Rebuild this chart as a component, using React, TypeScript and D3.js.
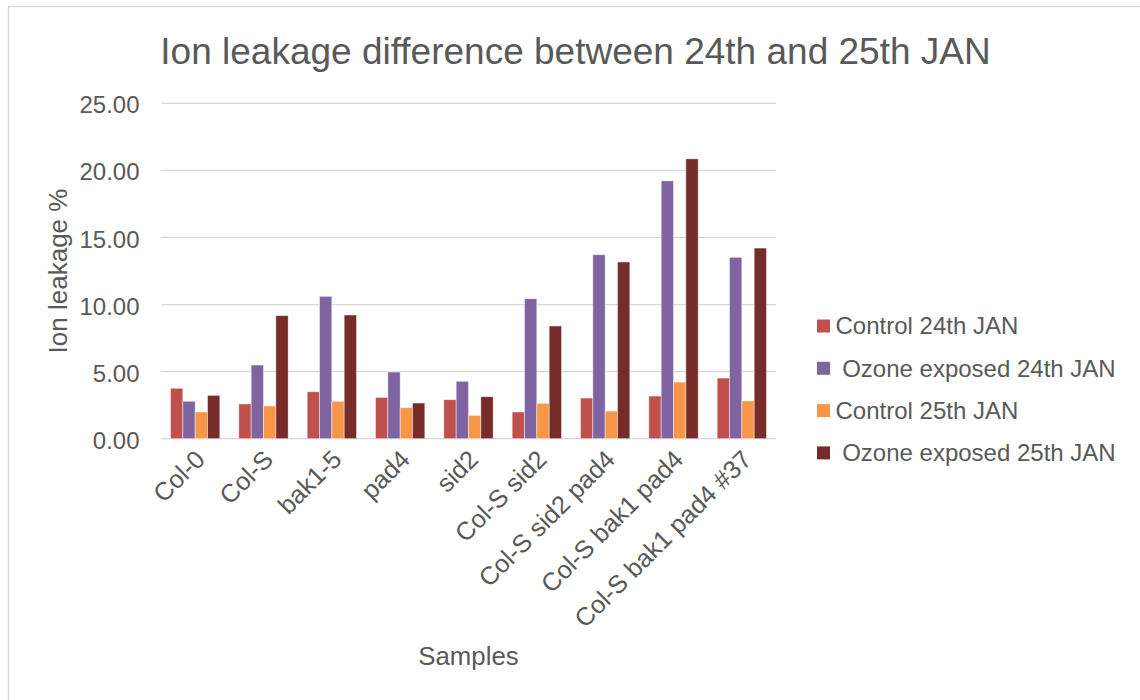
import React from "react";
import * as d3 from "d3";

const categories = [
  "Col-0",
  "Col-S",
  "bak1-5",
  "pad4",
  "sid2",
  "Col-S sid2",
  "Col-S sid2 pad4",
  "Col-S bak1 pad4",
  "Col-S bak1 pad4 #37",
];

const seriesNames = [
  "Control 24th JAN",
  " Ozone exposed 24th JAN",
  "Control 25th JAN",
  " Ozone exposed 25th JAN",
];

const control24 = [3.76, 2.59, 3.5, 3.08, 2.91, 1.99, 3.03, 3.18, 4.52];
const ozone24 = [2.79, 5.49, 10.61, 4.97, 4.28, 10.43, 13.71, 19.22, 13.52];
const control25 = [1.99, 2.44, 2.79, 2.31, 1.74, 2.64, 2.06, 4.22, 2.81];
const ozone25 = [3.23, 9.17, 9.22, 2.66, 3.13, 8.4, 13.17, 20.86, 14.21];

const seriesValues = [control24, ozone24, control25, ozone25];
const colors = ["#C0504D", "#8064A2", "#F79646", "#772C2A"];

const yTicks = [0, 5, 10, 15, 20, 25];

const W = 1140;
const H = 700;
const M = { left: 161, right: 776, top: 103.3, bottom: 438.7 };
const TEXT = "#595959";
const FONT = "'Liberation Sans', Arial, sans-serif";

export default function App() {
  const x0 = d3
    .scaleBand<string>()
    .domain(categories)
    .range([M.left, M.right])
    .paddingInner(0.278)
    .paddingOuter(0.139);
  const x1 = d3
    .scaleBand<number>()
    .domain(d3.range(seriesNames.length))
    .range([0, x0.bandwidth()])
    .padding(0);
  const y = d3.scaleLinear().domain([0, 25]).range([M.bottom, M.top]);

  return (
    <svg
      width={W}
      height={H}
      style={{ position: "absolute", left: 0, top: 0, background: "#fff" }}
      fontFamily={FONT}
    >
      <rect x={0} y={0} width={W} height={H} fill="#fff" />
      <rect
        x={8.5}
        y={6.5}
        width={W + 10}
        height={H + 10}
        fill="none"
        stroke="#d9d9d9"
        strokeWidth={1.3}
      />
      <text
        x={575.5}
        y={63.5}
        textAnchor="middle"
        fontSize={37}
        fill={TEXT}
      >
        Ion leakage difference between 24th and 25th JAN
      </text>

      {yTicks.map((t) => (
        <g key={t}>
          <line
            x1={M.left}
            x2={M.right}
            y1={y(t)}
            y2={y(t)}
            stroke="#d9d9d9"
            strokeWidth={1.3}
          />
          <text
            x={139.5}
            y={y(t) + 1.7}
            dy="0.35em"
            textAnchor="end"
            fontSize={24}
            fill={TEXT}
          >
            {t.toFixed(2)}
          </text>
        </g>
      ))}

      {categories.map((c, ci) => (
        <g key={c} transform={`translate(${x0(c)},0)`}>
          {seriesValues.map((vals, si) => (
            <rect
              key={si}
              x={x1(si)}
              y={y(vals[ci])}
              width={x1.bandwidth()}
              height={y(0) - y(vals[ci])}
              fill={colors[si]}
              stroke="#ffffff"
              strokeOpacity={0.6}
              strokeWidth={0.75}
            />
          ))}
        </g>
      ))}

      {categories.map((c) => {
        const cx = (x0(c) as number) + x0.bandwidth() / 2 + 5;
        return (
          <text
            key={c}
            transform={`translate(${cx},${M.bottom + 16}) rotate(-45)`}
            textAnchor="end"
            dy="0.35em"
            fontSize={25.3}
            fill={TEXT}
          >
            {c}
          </text>
        );
      })}

      <text
        transform={`translate(${67},${(M.top + M.bottom) / 2}) rotate(-90)`}
        textAnchor="middle"
        fontSize={26}
        fill={TEXT}
      >
        Ion leakage %
      </text>
      <text
        x={(M.left + M.right) / 2}
        y={665}
        textAnchor="middle"
        fontSize={25.8}
        fill={TEXT}
      >
        Samples
      </text>

      {seriesNames.map((s, i) => {
        const cy = 326 + i * 42.3;
        return (
          <g key={s}>
            <rect x={817} y={cy - 6.5} width={13} height={13} fill={colors[i]} />
            <text
              x={835.5}
              y={cy}
              dy="0.35em"
              fontSize={24}
              fill={TEXT}
              style={{ whiteSpace: "pre" }}
            >
              {s}
            </text>
          </g>
        );
      })}
    </svg>
  );
}
